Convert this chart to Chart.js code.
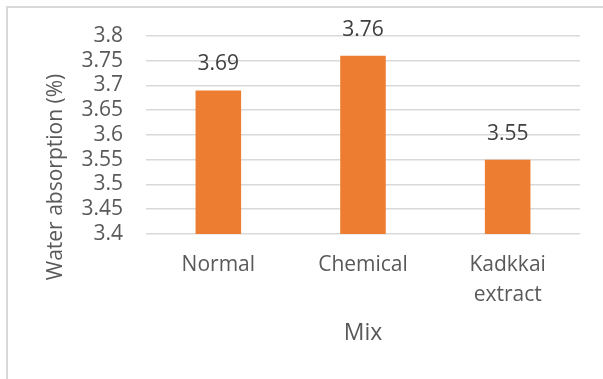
<!DOCTYPE html>
<html>
<head>
<meta charset="utf-8">
<title>Water absorption by mix</title>
<script src="https://cdn.jsdelivr.net/npm/chart.js@4.4.1/dist/chart.umd.min.js"></script>
<style>
  html, body { margin: 0; padding: 0; background: #fff; }
  #wrap { position: relative; width: 603px; height: 379px; overflow: hidden; }
  /* thin frame round the chart, only top and left edges fall inside the page */
  #frame { position: absolute; left: 6px; top: 6px; width: 700px; height: 500px;
           border-left: 2px solid #d9d9d9; border-top: 2px solid #d9d9d9; }
  canvas { position: absolute; left: 0; top: 0; }
</style>
</head>
<body>
<div id="wrap">
  <div id="frame"></div>
  <canvas id="chart" width="603" height="379"></canvas>
</div>
<script>
// Mix types and measured water absorption (%)
var mixes = ['Normal', 'Chemical', ['Kadkkai', 'extract']];
var absorption = [3.69, 3.76, 3.55];

// Value axis range
var yMin = 3.4;
var yMax = 3.8;
var yStep = 0.05;

var yTitle = 'Water absorption (%)';
var xTitle = 'Mix';

var font = '"Open Sans", "Noto Sans", sans-serif';

// Value labels above each bar
var barLabels = {
    id: 'barLabels',
    afterDatasetsDraw: function(chart) {
        var ctx = chart.ctx;
        var meta = chart.getDatasetMeta(0);
        ctx.save();
        ctx.font = '21px ' + font;
        ctx.fillStyle = '#404040';
        ctx.textAlign = 'center';
        ctx.textBaseline = 'middle';
        meta.data.forEach(function(bar, i) {
            ctx.fillText(absorption[i].toFixed(2), bar.x, bar.y - 26);
        });
        ctx.restore();
    }
};

// Vertical axis title, sits a bit lower than the plot centre
var yAxisTitle = {
    id: 'yAxisTitle',
    afterDraw: function(chart) {
        var ctx = chart.ctx;
        ctx.save();
        ctx.translate(56, 177);
        ctx.rotate(-Math.PI / 2);
        ctx.font = '21px ' + font;
        ctx.fillStyle = '#595959';
        ctx.textAlign = 'center';
        ctx.textBaseline = 'middle';
        ctx.fillText(yTitle, 0, 0);
        ctx.restore();
    }
};

var ctx = document.getElementById('chart').getContext('2d');

var chart = new Chart(ctx, {
    type: 'bar',
    data: {
        labels: mixes,
        datasets: [{
            data: absorption,
            backgroundColor: '#ED7D31',
            borderWidth: 0,
            categoryPercentage: 1,
            barPercentage: 0.315
        }]
    },
    options: {
        responsive: false,
        animation: false,
        layout: {
            padding: { top: 36, right: 23, bottom: 0, left: 0 }
        },
        plugins: {
            legend: { display: false },
            tooltip: { enabled: false }
        },
        scales: {
            x: {
                grid: { display: false, drawTicks: false },
                border: { display: false },
                ticks: {
                    color: '#595959',
                    padding: 16,
                    maxRotation: 0,
                    font: { family: font, size: 21, lineHeight: 1.43 }
                },
                title: {
                    display: true,
                    text: xTitle,
                    color: '#595959',
                    font: { family: font, size: 23 },
                    padding: { top: 0, bottom: 32 }
                },
                afterFit: function(scale) { scale.height = 145; }
            },
            y: {
                min: yMin,
                max: yMax,
                grid: { color: '#d9d9d9', lineWidth: 1.5, drawTicks: false },
                border: { display: false },
                ticks: {
                    stepSize: yStep,
                    autoSkip: false,
                    color: '#595959',
                    padding: 23,
                    font: { family: font, size: 21 },
                    callback: function(v) { return String(+v.toFixed(2)); }
                },
                afterFit: function(scale) { scale.width = 146; }
            }
        }
    },
    plugins: [barLabels, yAxisTitle]
});
</script>
</body>
</html>
